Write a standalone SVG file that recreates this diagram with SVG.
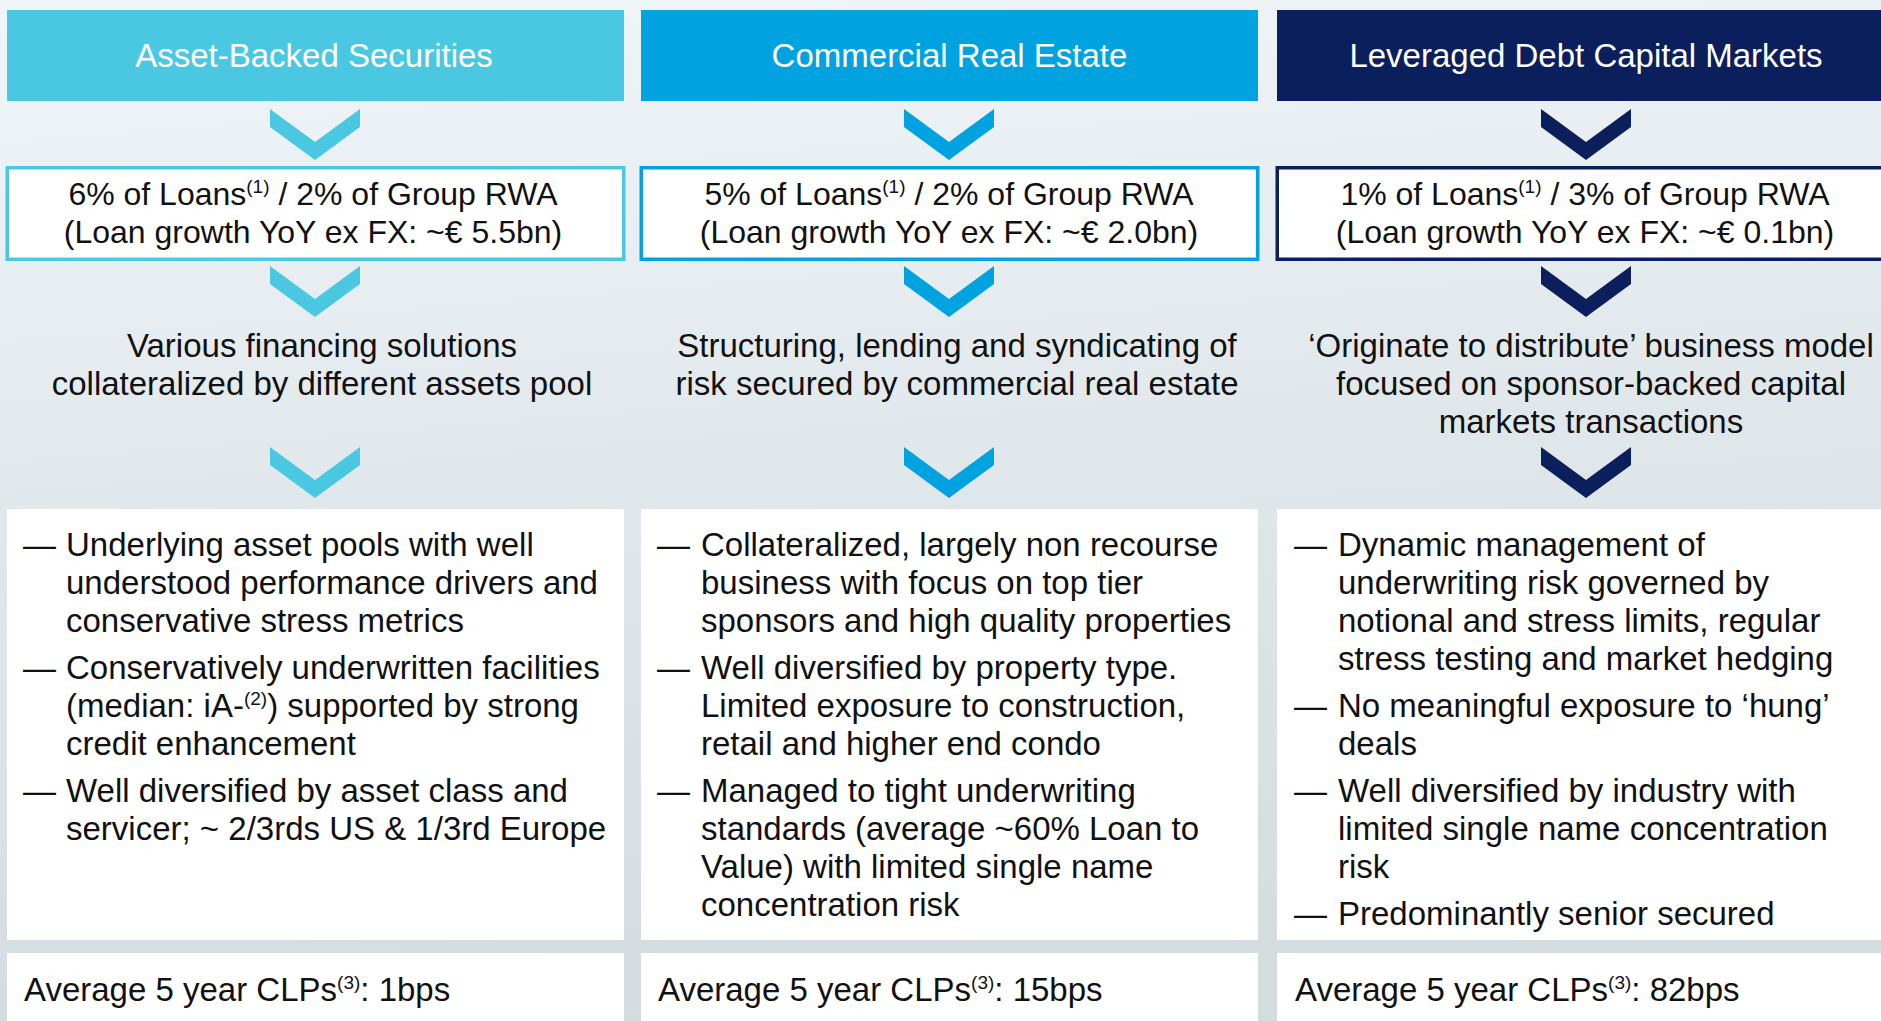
<svg xmlns="http://www.w3.org/2000/svg" width="1881" height="1021" viewBox="0 0 1881 1021">
  <defs>
    <linearGradient id="bg" x1="0" y1="0" x2="0.15" y2="1">
      <stop offset="0" stop-color="#f0f5f8"/>
      <stop offset="0.5" stop-color="#e1e8ec"/>
      <stop offset="1" stop-color="#d4dce0"/>
    </linearGradient>
    <polygon id="chev" points="-45,0 0,33 45,0 45,18 0,51 -45,18"/>
  </defs>
  <style>
    text { font-family: "Liberation Sans", Arial, sans-serif; }
    .hdr { font-size: 33px; fill: #ffffff; text-anchor: middle; }
    .stat { font-size: 32px; fill: #111111; text-anchor: middle; }
    .desc { font-size: 33px; fill: #111111; text-anchor: middle; }
    .body { font-size: 33px; fill: #111111; }
    .clp { font-size: 33px; fill: #111111; }
    .sup { font-size: 19px; }
    .panel { fill: #ffffff; }
    .c1 { fill: #4bc8e1; }
    .c2 { fill: #00a3e0; }
    .c3 { fill: #0b1f5c; }
    .b1 { fill: #ffffff; stroke: #4bc8e1; stroke-width: 3.5; }
    .b2 { fill: #ffffff; stroke: #00a3e0; stroke-width: 3.5; }
    .b3 { fill: #ffffff; stroke: #0b1f5c; stroke-width: 3.5; }
  </style>

  <rect x="0" y="0" width="1881" height="1021" fill="url(#bg)"/>

  <!-- Column 1: Asset-Backed Securities -->
  <g id="abs-header">
    <rect class="c1" x="7" y="10" width="617" height="91"/>
    <text class="hdr" x="314" y="67">Asset-Backed Securities</text>
  </g>
  <g id="abs-stats">
    <rect class="b1" x="7.25" y="167.75" width="616.5" height="91.5"/>
    <text class="stat" x="313" y="205">6% of Loans<tspan class="sup" dy="-12">(1)</tspan><tspan dy="12"> / 2% of Group RWA</tspan></text>
    <text class="stat" x="313" y="243">(Loan growth YoY ex FX: ~€ 5.5bn)</text>
  </g>
  <g id="abs-desc">
    <text class="desc" x="322" y="357">Various financing solutions</text>
    <text class="desc" x="322" y="395">collateralized by different assets pool</text>
  </g>
  <g id="abs-details">
    <rect class="panel" x="7" y="509" width="617" height="431"/>
    <text class="body" x="23" y="556">—</text>
    <text class="body" x="66" y="556">Underlying asset pools with well</text>
    <text class="body" x="66" y="594">understood performance drivers and</text>
    <text class="body" x="66" y="632">conservative stress metrics</text>
    <text class="body" x="23" y="679">—</text>
    <text class="body" x="66" y="679">Conservatively underwritten facilities</text>
    <text class="body" x="66" y="717">(median: iA-<tspan class="sup" dy="-12">(2)</tspan><tspan dy="12">) supported by strong</tspan></text>
    <text class="body" x="66" y="755">credit enhancement</text>
    <text class="body" x="23" y="802">—</text>
    <text class="body" x="66" y="802">Well diversified by asset class and</text>
    <text class="body" x="66" y="840">servicer; ~ 2/3rds US &amp; 1/3rd Europe</text>
  </g>
  <g id="abs-clp">
    <rect class="panel" x="7" y="953" width="617" height="68"/>
    <text class="clp" x="24" y="1001">Average 5 year CLPs<tspan class="sup" dy="-12">(3)</tspan><tspan dy="12">: 1bps</tspan></text>
  </g>

  <!-- Column 2: Commercial Real Estate -->
  <g id="cre-header">
    <rect class="c2" x="641" y="10" width="617" height="91"/>
    <text class="hdr" x="949.5" y="67">Commercial Real Estate</text>
  </g>
  <g id="cre-stats">
    <rect class="b2" x="641.25" y="167.75" width="616.5" height="91.5"/>
    <text class="stat" x="949" y="205">5% of Loans<tspan class="sup" dy="-12">(1)</tspan><tspan dy="12"> / 2% of Group RWA</tspan></text>
    <text class="stat" x="949" y="243">(Loan growth YoY ex FX: ~€ 2.0bn)</text>
  </g>
  <g id="cre-desc">
    <text class="desc" x="957" y="357">Structuring, lending and syndicating of</text>
    <text class="desc" x="957" y="395">risk secured by commercial real estate</text>
  </g>
  <g id="cre-details">
    <rect class="panel" x="641" y="509" width="617" height="431"/>
    <text class="body" x="657" y="556">—</text>
    <text class="body" x="701" y="556">Collateralized, largely non recourse</text>
    <text class="body" x="701" y="594">business with focus on top tier</text>
    <text class="body" x="701" y="632">sponsors and high quality properties</text>
    <text class="body" x="657" y="679">—</text>
    <text class="body" x="701" y="679">Well diversified by property type.</text>
    <text class="body" x="701" y="717">Limited exposure to construction,</text>
    <text class="body" x="701" y="755">retail and higher end condo</text>
    <text class="body" x="657" y="802">—</text>
    <text class="body" x="701" y="802">Managed to tight underwriting</text>
    <text class="body" x="701" y="840">standards (average ~60% Loan to</text>
    <text class="body" x="701" y="878">Value) with limited single name</text>
    <text class="body" x="701" y="916">concentration risk</text>
  </g>
  <g id="cre-clp">
    <rect class="panel" x="641" y="953" width="617" height="68"/>
    <text class="clp" x="658" y="1001">Average 5 year CLPs<tspan class="sup" dy="-12">(3)</tspan><tspan dy="12">: 15bps</tspan></text>
  </g>

  <!-- Column 3: Leveraged Debt Capital Markets -->
  <g id="ldcm-header">
    <rect class="c3" x="1277" y="10" width="604" height="91"/>
    <text class="hdr" x="1586" y="67">Leveraged Debt Capital Markets</text>
  </g>
  <g id="ldcm-stats">
    <rect class="b3" x="1277.25" y="167.75" width="610" height="91.5"/>
    <text class="stat" x="1585" y="205">1% of Loans<tspan class="sup" dy="-12">(1)</tspan><tspan dy="12"> / 3% of Group RWA</tspan></text>
    <text class="stat" x="1585" y="243">(Loan growth YoY ex FX: ~€ 0.1bn)</text>
  </g>
  <g id="ldcm-desc">
    <text class="desc" x="1591" y="357">‘Originate to distribute’ business model</text>
    <text class="desc" x="1591" y="395">focused on sponsor-backed capital</text>
    <text class="desc" x="1591" y="433">markets transactions</text>
  </g>
  <g id="ldcm-details">
    <rect class="panel" x="1277" y="509" width="604" height="431"/>
    <text class="body" x="1294" y="556">—</text>
    <text class="body" x="1338" y="556">Dynamic management of</text>
    <text class="body" x="1338" y="594">underwriting risk governed by</text>
    <text class="body" x="1338" y="632">notional and stress limits, regular</text>
    <text class="body" x="1338" y="670">stress testing and market hedging</text>
    <text class="body" x="1294" y="717">—</text>
    <text class="body" x="1338" y="717">No meaningful exposure to ‘hung’</text>
    <text class="body" x="1338" y="755">deals</text>
    <text class="body" x="1294" y="802">—</text>
    <text class="body" x="1338" y="802">Well diversified by industry with</text>
    <text class="body" x="1338" y="840">limited single name concentration</text>
    <text class="body" x="1338" y="878">risk</text>
    <text class="body" x="1294" y="925">—</text>
    <text class="body" x="1338" y="925">Predominantly senior secured</text>
  </g>
  <g id="ldcm-clp">
    <rect class="panel" x="1277" y="953" width="604" height="68"/>
    <text class="clp" x="1295" y="1001">Average 5 year CLPs<tspan class="sup" dy="-12">(3)</tspan><tspan dy="12">: 82bps</tspan></text>
  </g>

  <!-- Connectors: chevrons -->
  <g id="connectors">
    <use href="#chev" class="c1" x="315" y="109"/>
    <use href="#chev" class="c1" x="315" y="266"/>
    <use href="#chev" class="c1" x="315" y="447"/>
    <use href="#chev" class="c2" x="949" y="109"/>
    <use href="#chev" class="c2" x="949" y="266"/>
    <use href="#chev" class="c2" x="949" y="447"/>
    <use href="#chev" class="c3" x="1586" y="109"/>
    <use href="#chev" class="c3" x="1586" y="266"/>
    <use href="#chev" class="c3" x="1586" y="447"/>
  </g>
</svg>
